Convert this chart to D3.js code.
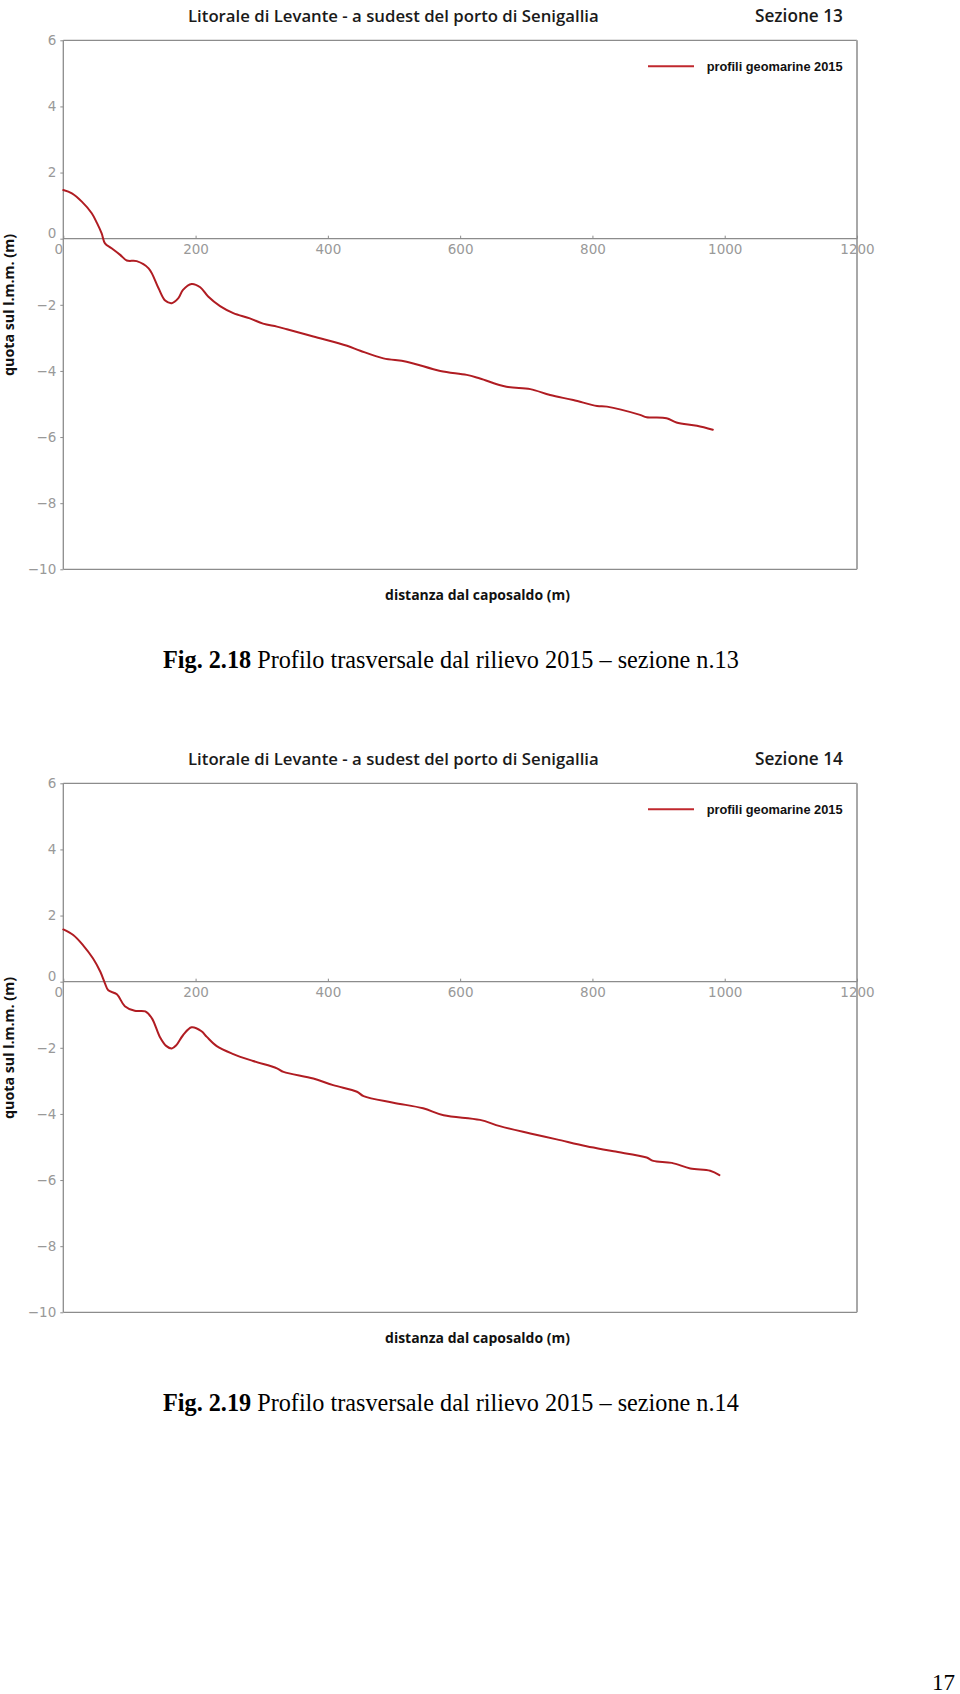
<!DOCTYPE html>
<html>
<head>
<meta charset="utf-8">
<script src="https://cdn.jsdelivr.net/npm/d3@7/dist/d3.min.js"></script>
<style>
  html, body { margin: 0; padding: 0; background: #fff; }
  svg { display: block; }
</style>
</head>
<body>
<svg id="page" width="960" height="1694"></svg>
<script>
// ---------- data ----------
const title = "Litorale di Levante - a sudest del porto di Senigallia";
const sections = ["Sezione 13", "Sezione 14"];
const legendLabel = "profili geomarine 2015";
const xTitle = "distanza dal caposaldo (m)";
const yTitle = "quota sul l.m.m. (m)";
const xTicks = [0, 200, 400, 600, 800, 1000, 1200];
const yTicks = [-10, -8, -6, -4, -2, 0, 2, 4, 6];
const captionsBold = ["Fig. 2.18", "Fig. 2.19"];
const captionsText = [" Profilo trasversale dal rilievo 2015 \u2013 sezione n.13",
                      " Profilo trasversale dal rilievo 2015 \u2013 sezione n.14"];
const pageNumber = "17";

const distance13 = [0,13,28,43,51,58,63,73,86,96,111,129,144,154,164,174,181,194,207,219,237,257,282,302,323,338,378,429,449,484,519,570,610,630,670,706,736,771,807,822,872,882,912,927,958,982];
const quota13 = [1.47,1.37,1.12,0.77,0.47,0.16,-0.14,-0.29,-0.49,-0.66,-0.68,-0.90,-1.50,-1.87,-1.95,-1.80,-1.55,-1.37,-1.47,-1.75,-2.04,-2.25,-2.41,-2.57,-2.66,-2.74,-2.96,-3.24,-3.39,-3.62,-3.72,-4.00,-4.12,-4.23,-4.48,-4.55,-4.73,-4.88,-5.06,-5.08,-5.33,-5.40,-5.43,-5.56,-5.66,-5.78];

const distance14 = [0,15,30,45,56,63,68,81,93,108,124,134,146,156,164,171,181,194,209,217,232,257,287,323,333,378,408,444,454,499,544,575,630,660,706,746,791,832,882,892,920,948,978,992];
const quota14 = [1.58,1.41,1.10,0.70,0.30,-0.05,-0.26,-0.38,-0.74,-0.88,-0.90,-1.11,-1.67,-1.95,-2.02,-1.92,-1.62,-1.38,-1.50,-1.67,-1.95,-2.19,-2.40,-2.62,-2.73,-2.93,-3.13,-3.33,-3.46,-3.66,-3.83,-4.04,-4.18,-4.37,-4.59,-4.77,-4.98,-5.13,-5.32,-5.42,-5.48,-5.65,-5.72,-5.85];

const profiles = [
  distance13.map((d, i) => ({ x: d, y: quota13[i] })),
  distance14.map((d, i) => ({ x: d, y: quota14[i] }))
];

// ---------- layout ----------
const svg = d3.select("#page");
const L = 63.3, R = 857, T = 40.3, B = 569.3;
const OFFSET = 743;
const axisColor = "#8c8c8c";
const tickText = "#999999";
const lineColor = "#b01c22";

function fitWidth(sel, target) {
  const node = sel.node();
  const fs = parseFloat(sel.attr("font-size"));
  const w = node.getComputedTextLength();
  if (w > 0) sel.attr("font-size", (fs * target / w).toFixed(2));
}

function drawChart(k) {
  const g = svg.append("g").attr("transform", `translate(0,${k * OFFSET})`);
  const x = d3.scaleLinear().domain([0, 1200]).range([L, R]);
  const y = d3.scaleLinear().domain([-10, 6]).range([B, T]);

  // frame
  g.append("line").attr("x1", L).attr("x2", R).attr("y1", T).attr("y2", T)
    .attr("stroke", axisColor).attr("stroke-width", 1.3);
  g.append("line").attr("x1", L).attr("x2", R).attr("y1", B).attr("y2", B)
    .attr("stroke", axisColor).attr("stroke-width", 1.3);
  g.append("line").attr("x1", R).attr("x2", R).attr("y1", T).attr("y2", B)
    .attr("stroke", "#a8a8a8").attr("stroke-width", 2);
  g.append("line").attr("x1", L).attr("x2", L).attr("y1", T).attr("y2", B)
    .attr("stroke", axisColor).attr("stroke-width", 1.3);

  // x axis along y = 0
  const xa = g.append("g").attr("transform", `translate(0,${y(0)})`)
    .call(d3.axisBottom(x).tickValues(xTicks).tickSize(-3).tickPadding(6)
      .tickFormat(d3.format("d")));
  xa.select(".domain").attr("stroke", axisColor).attr("stroke-width", 1.3)
    .attr("d", `M${L},0H${R}`);
  xa.selectAll(".tick line").attr("stroke", axisColor);
  xa.selectAll(".tick text").attr("fill", tickText)
    .attr("font-family", "DejaVu Sans").attr("font-size", 13.5);
  xa.selectAll(".tick").filter(d => d === 0).select("text").attr("dx", -5);

  // y axis
  const ya = g.append("g").attr("transform", `translate(${L},0)`)
    .call(d3.axisLeft(y).tickValues(yTicks).tickSize(3).tickPadding(4));
  ya.select(".domain").remove();
  ya.selectAll(".tick line").attr("stroke", axisColor);
  ya.selectAll(".tick text").attr("fill", tickText)
    .attr("font-family", "DejaVu Sans").attr("font-size", 13.5);
  ya.selectAll(".tick").filter(d => d === 0).select("text").attr("dy", "-0.1em");

  // profile line
  const line = d3.line().x(d => x(d.x)).y(d => y(d.y)).curve(d3.curveCatmullRom.alpha(0.5));
  g.append("path").datum(profiles[k]).attr("d", line)
    .attr("fill", "none").attr("stroke", lineColor).attr("stroke-width", 2)
    .attr("stroke-linejoin", "round").attr("stroke-linecap", "round");

  // legend
  g.append("line").attr("x1", 648).attr("x2", 694).attr("y1", 66.3).attr("y2", 66.3)
    .attr("stroke", "#c0282e").attr("stroke-width", 2);
  const lt = g.append("text").attr("x", 706.7).attr("y", 71)
    .attr("font-family", "Liberation Sans, Arial").attr("font-weight", "bold")
    .attr("font-size", 13).attr("fill", "#111").text(legendLabel);
  fitWidth(lt, 136);

  // titles
  const t1 = g.append("text").attr("x", 188).attr("y", 21.5)
    .attr("font-family", "Open Sans").attr("font-size", 15).attr("font-weight", 600)
    .attr("fill", "#1a1a1a").text(title);
  fitWidth(t1, 411);
  const t2 = g.append("text").attr("x", 755).attr("y", 21.5)
    .attr("font-family", "Open Sans").attr("font-size", 15).attr("font-weight", 600)
    .attr("fill", "#1a1a1a").text(sections[k]);
  fitWidth(t2, 88);

  // axis titles
  const xt = g.append("text").attr("x", 477.5).attr("y", 599.5).attr("text-anchor", "middle")
    .attr("font-family", "Open Sans").attr("font-weight", "bold").attr("font-size", 13)
    .attr("fill", "#111").text(xTitle);
  fitWidth(xt, 185);
  const yt = g.append("text").attr("transform", "translate(14,305) rotate(-90)")
    .attr("text-anchor", "middle")
    .attr("font-family", "Open Sans").attr("font-weight", "bold").attr("font-size", 13)
    .attr("fill", "#111").text(yTitle);
  fitWidth(yt, 142);

  // caption
  const cap = g.append("text").attr("x", 163).attr("y", 668)
    .attr("font-family", "Liberation Serif, Times New Roman").attr("font-size", 22)
    .attr("fill", "#000");
  cap.append("tspan").attr("font-weight", "bold").text(captionsBold[k]);
  cap.append("tspan").text(captionsText[k]);
  fitWidth(cap, 576);
}

drawChart(0);
drawChart(1);

svg.append("text").attr("x", 955).attr("y", 1690).attr("text-anchor", "end")
  .attr("font-family", "Liberation Serif, Times New Roman").attr("font-size", 23)
  .attr("fill", "#000").text(pageNumber);
</script>
</body>
</html>
